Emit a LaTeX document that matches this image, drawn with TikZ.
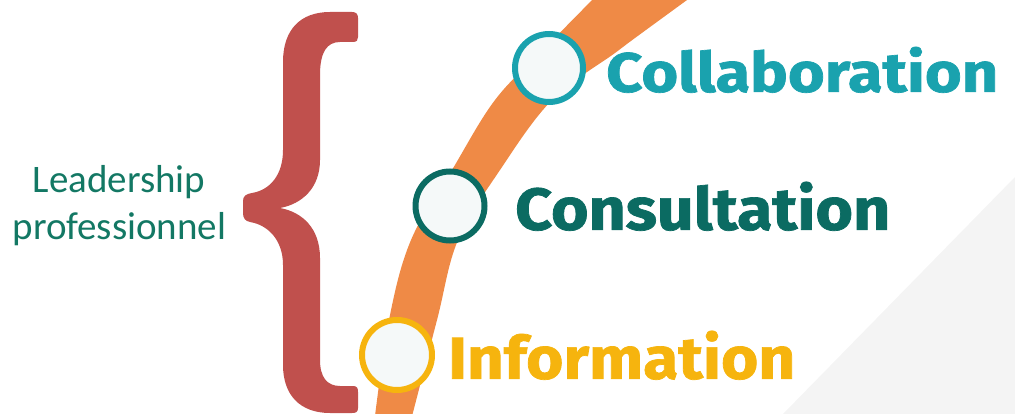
\documentclass[tikz,border=0pt]{standalone}
\usepackage{fontspec}
\setmainfont{Carlito}
\newfontfamily\carlito{Carlito}
\newfontfamily\firafont[BoldFeatures={FakeBold=1.2}]{Fira Sans}
\definecolor{bracered}{HTML}{C0504D}
\definecolor{leadteal}{HTML}{137864}
\definecolor{collabteal}{HTML}{1AA2AE}
\definecolor{consulteal}{HTML}{0B6B62}
\definecolor{infoamber}{HTML}{F6B40E}
\definecolor{bandorange}{HTML}{EF8A46}
\definecolor{ringfill}{HTML}{F5F9F9}
\definecolor{greypanel}{HTML}{F4F4F4}
\tikzset{
  ring/.style={circle, inner sep=0pt, line width=6pt, fill=ringfill, minimum size=#1},
  bigword/.style={inner sep=0pt, anchor=south west},
  leadtext/.style={inner sep=0pt, anchor=base, text=leadteal, font=\carlito\fontsize{39pt}{47pt}\selectfont}
}
\begin{document}
\begin{tikzpicture}[x=1pt,y=-1pt]
\useasboundingbox (0,0) rectangle (1015,414);
\clip (0,0) rectangle (1015,414);
% grey panel
\fill[greypanel] (783,414) -- (1015,177) -- (1015,414) -- cycle;
% orange band
\fill[bandorange] plot[smooth, tension=0.6] coordinates {(600,-8) (543,50) (495,100) (452,170) (411,240) (389,320) (374,424)}
  -- plot[smooth, tension=0.6] coordinates {(410,424) (437,320) (458,240) (500,170) (552,100) (615,53) (635,38) (698,-8)} -- cycle;
% rings
\node[ring=68pt, draw=collabteal] (cCollab) at (549,68) {};
\node[ring=69pt, draw=consulteal] (cConsul) at (450,206) {};
\node[ring=70pt, draw=infoamber] (cInfo) at (397,355) {};
% words
\node[bigword, text=collabteal] (tCollab) at (606,93) {\resizebox{392pt}{45pt}{\firafont\bfseries Collaboration}};
\node[bigword, text=consulteal] (tConsul) at (515,231) {\resizebox{375pt}{48pt}{\firafont\bfseries Consultation}};
\node[bigword, text=infoamber] (tInfo) at (448,380) {\resizebox{347pt}{48pt}{\firafont\bfseries Information}};
% left label
\node[leadtext] (lead1) at (119,193) {Leadership};
\node[leadtext] (lead2) at (119.5,240) {professionnel};
% brace
\fill[bracered] (330,12) -- (352,12) .. controls (356,12) and (358,14) .. (358,18) -- (358,37)
  .. controls (358,40) and (357,42) .. (353,42) -- (340,42)
  .. controls (327,42) and (320,52) .. (320,75) -- (320,160)
  .. controls (320,188) and (302,204) .. (280,208)
  .. controls (302,212) and (320,228) .. (320,258) -- (320,360)
  .. controls (320,377) and (327,386) .. (340,386) -- (353,386)
  .. controls (357,386) and (358,388) .. (358,392) -- (358,408)
  .. controls (358,412) and (356,413) .. (352,413) -- (330,413)
  .. controls (300,413) and (283,395) .. (283,365) -- (283,265)
  .. controls (283,240) and (268,225) .. (250,222)
  .. controls (245,221) and (243,218) .. (243,213) -- (243,201)
  .. controls (243,196) and (246,194) .. (252,193)
  .. controls (270,190) and (283,175) .. (283,150) -- (283,62)
  .. controls (283,30) and (300,12) .. (330,12) -- cycle;
\end{tikzpicture}
\end{document}
